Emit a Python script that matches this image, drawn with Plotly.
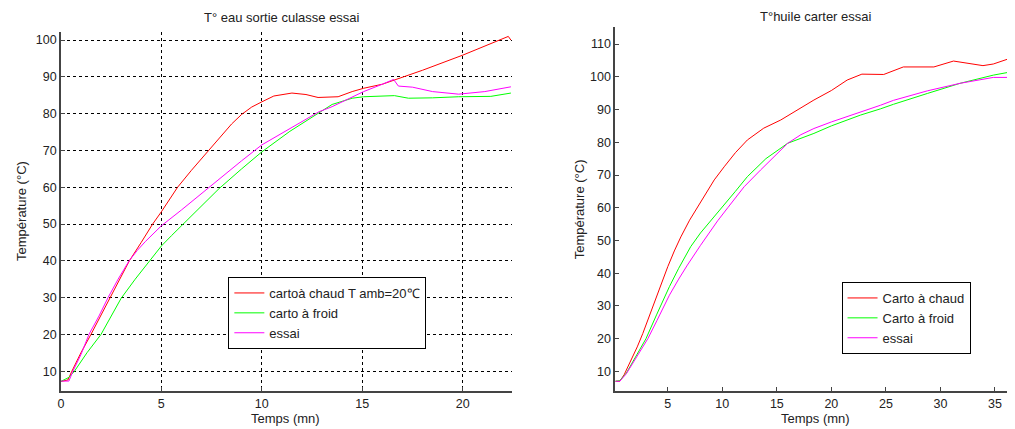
import plotly.graph_objects as go

# ---------------- Left chart: T° eau sortie culasse essai ----------------
left_chaud_t = [0, 0.35, 0.55, 1.0, 1.5, 2.0, 2.42, 2.9, 3.41, 4.0, 4.57, 5.0, 5.81, 6.5, 7.3, 8.0, 8.5, 9.0,
                9.5, 10.0, 10.6, 11.5, 12.2, 12.8, 13.8, 14.5, 15.07, 16.0, 16.6, 18.0, 20.0, 21.2, 22.27, 22.4]
left_chaud_v = [7.2, 7.6, 10, 15, 20, 25.2, 30, 35, 40, 45, 50, 53.3, 60, 64.6, 69.6, 74.2, 77.2, 79.8,
                81.8, 83.2, 84.8, 85.6, 85.2, 84.4, 84.6, 86, 86.9, 88.0, 89.1, 91.8, 95.9, 98.6, 101, 100]

left_froid_t = [0, 0.4, 0.68, 1.3, 2.0, 2.5, 3.0, 3.7, 4.4, 5.0, 5.5, 6.1, 6.8, 7.87, 9.0, 10.0, 11.4,
                12.84, 13.5, 14.5, 15.07, 16.6, 17.3, 18.5, 19.8, 21.4, 22.4]
left_froid_v = [7.2, 8.3, 10, 15, 20, 24.7, 29.8, 35, 39.8, 44.0, 46.8, 50, 53.8, 59.6, 65.0, 69.6, 75.2,
                80.1, 82.5, 84.2, 84.6, 84.9, 84.2, 84.3, 84.6, 84.7, 85.6]

left_essai_t = [0, 0.4, 0.6, 1.0, 1.4, 1.9, 2.35, 2.85, 3.4, 3.8, 4.2, 5.0, 6.0, 7.0, 8.0, 9.0, 10.0, 11.0,
                12.0, 12.84, 13.5, 14.5, 15.07, 16.0, 16.56, 16.8, 17.5, 18.5, 19.8, 21.1, 22.4]
left_essai_v = [7.3, 7.3, 10, 14.5, 20, 25, 30, 35, 40, 42.8, 45.2, 49.5, 53.8, 58.3, 62.8, 67.2, 71.5,
                74.7, 78, 80.5, 81.9, 84.6, 86, 88, 89.3, 87.5, 87.2, 86, 85.3, 86, 87.3]

left_names = ["cartoà chaud T amb=20℃", "carto à froid", "essai"]
left_xticks = [0, 5, 10, 15, 20]
left_yticks = [10, 20, 30, 40, 50, 60, 70, 80, 90, 100]

# ---------------- Right chart: T°huile carter essai ----------------
right_chaud_t = [0.2, 0.6, 1.0, 1.65, 2.2, 2.71, 3.2, 3.78, 4.4, 5.0, 5.6, 6.2, 7.0, 7.74, 8.5, 9.26, 10.17,
                 11.2, 12.3, 13.8, 15.36, 16.9, 18.4, 20.0, 21.45, 22.8, 24.8, 26.6, 29.4, 31.2, 32.7, 33.9,
                 34.85, 36.8]
right_chaud_v = [7, 7, 9, 13.5, 17.5, 21.6, 26, 30.8, 36.5, 42, 46.8, 51.1, 56.2, 60.3, 64.5, 68.5, 72.5,
                 76.8, 80.7, 84.3, 86.8, 89.9, 92.9, 95.8, 99, 100.8, 100.7, 103, 103, 104.8, 103.9, 103.4,
                 103.9, 106.1]

right_froid_t = [0.2, 0.6, 1.2, 2.0, 3.0, 4.0, 5.15, 6.0, 7.1, 8.0, 9.0, 10.2, 11.2, 12.3, 14.0, 16.0,
                 18.4, 20.0, 21.45, 22.67, 24.5, 25.7, 28.8, 31.8, 34.85, 36.8]
right_froid_v = [7, 7.2, 9.5, 14, 20, 27.5, 35.9, 41.5, 48.1, 52.3, 56.2, 60.8, 65, 69.5, 75, 79.7,
                 82.7, 85, 86.8, 88.3, 90.2, 91.6, 94.9, 98, 100.5, 101.7]

right_essai_t = [0.2, 0.6, 1.2, 2.0, 3.17, 4.0, 5.15, 6.0, 6.8, 8.0, 8.96, 9.57, 10.5, 12.0, 13.5, 16.0,
                 17.2, 18.4, 20.0, 21.45, 22.67, 24.5, 25.7, 28.8, 31.8, 34.85, 36.8]
right_essai_v = [7, 7, 9.3, 13.8, 20, 25.5, 33.3, 38.2, 42.5, 48.5, 53.2, 56, 60, 66.4, 71.5, 79.7,
                 82.3, 84.2, 86.2, 87.8, 89.3, 91.3, 92.8, 95.7, 98, 99.8, 99.8]

right_names = ["Carto à chaud", "Carto à froid", "essai"]
right_xticks = [5, 10, 15, 20, 25, 30, 35]
right_yticks = [10, 20, 30, 40, 50, 60, 70, 80, 90, 100, 110]

colors = ["#ff0000", "#00ff00", "#ff00ff"]
FONT = "Liberation Sans, Arial, sans-serif"
W, H = 1015, 429
OFF = 8  # page body margin offset


def px(x):
    return (x - OFF) / W


def py(y):
    return 1 - (y - OFF) / H


fig = go.Figure()

left_series = [(left_chaud_t, left_chaud_v), (left_froid_t, left_froid_v), (left_essai_t, left_essai_v)]
for (t, v), name, c in zip(left_series, left_names, colors):
    fig.add_trace(go.Scatter(x=t, y=v, name=name, mode="lines", line=dict(color=c, width=1),
                             xaxis="x", yaxis="y", legend="legend"))

right_series = [(right_chaud_t, right_chaud_v), (right_froid_t, right_froid_v), (right_essai_t, right_essai_v)]
for (t, v), name, c in zip(right_series, right_names, colors):
    fig.add_trace(go.Scatter(x=t, y=v, name=name, mode="lines", line=dict(color=c, width=1),
                             xaxis="x2", yaxis="y2", legend="legend2"))

axis_common = dict(showline=True, linecolor="#444", linewidth=1.5, ticks="inside", ticklen=4,
                   tickcolor="#444", zeroline=False, tickfont=dict(family=FONT, size=12.5, color="#222"),
                   mirror=False)

fig.update_layout(
    width=W, height=H,
    margin=dict(l=0, r=0, t=0, b=0),
    paper_bgcolor="white", plot_bgcolor="white",
    font=dict(family=FONT, size=12, color="#222"),
    xaxis=dict(domain=[px(58), px(510)], range=[0, 22.43], tickvals=left_xticks, anchor="y",
               showgrid=True, gridcolor="black", gridwidth=1, griddash="3px,3px", **axis_common),
    yaxis=dict(domain=[py(391), py(32)], range=[4.6, 102.2], tickvals=left_yticks, anchor="x",
               showgrid=True, gridcolor="black", gridwidth=1, griddash="3px,3px", **axis_common),
    xaxis2=dict(domain=[px(614), px(1015)], range=[0.18, 36.84], tickvals=right_xticks, anchor="y2",
                showgrid=False, **axis_common),
    yaxis2=dict(domain=[py(391), py(27)], range=[4.03, 115.2], tickvals=right_yticks, anchor="x2",
                showgrid=False, **axis_common),
    legend=dict(x=px(226), y=py(277), xanchor="left", yanchor="top", bgcolor="white",
                bordercolor="black", borderwidth=1, font=dict(family=FONT, size=13, color="#222"),
                tracegroupgap=0, itemwidth=30),
    legend2=dict(x=px(841), y=py(282), xanchor="left", yanchor="top", bgcolor="white",
                 bordercolor="black", borderwidth=1, font=dict(family=FONT, size=13, color="#222"),
                 tracegroupgap=0, itemwidth=30),
    showlegend=True,
)

ann = dict(showarrow=False, xref="paper", yref="paper", font=dict(family=FONT, size=13, color="#222"))
fig.add_annotation(text="T° eau sortie culasse essai", x=px(280), y=py(18), xanchor="center", yanchor="middle", **ann)
fig.add_annotation(text="T°huile carter essai", x=px(815), y=py(17), xanchor="center", yanchor="middle", **ann)
fig.add_annotation(text="Temps (mn)", x=px(283), y=py(418), xanchor="center", yanchor="middle", **ann)
fig.add_annotation(text="Temps (mn)", x=px(815), y=py(418), xanchor="center", yanchor="middle", **ann)
fig.add_annotation(text="Température (°C)", x=px(18), y=py(211), xanchor="center", yanchor="middle", textangle=-90, **ann)
fig.add_annotation(text="Température (°C)", x=px(578), y=py(209), xanchor="center", yanchor="middle", textangle=-90, **ann)

fig.write_html("out.html")
